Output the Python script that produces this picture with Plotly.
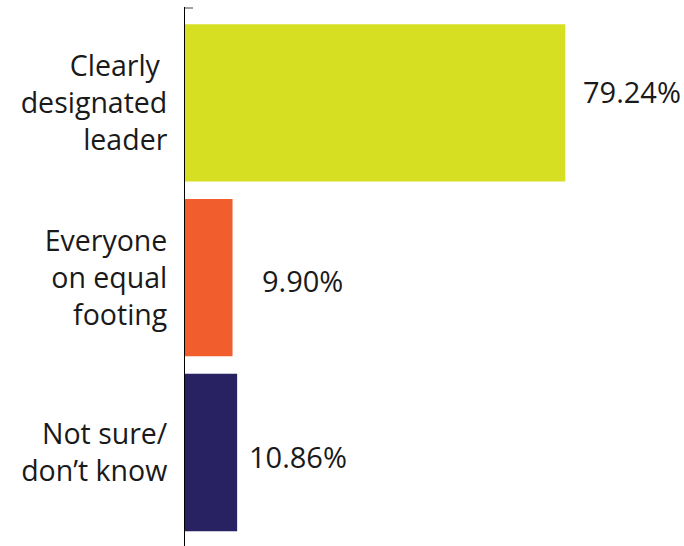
import plotly.graph_objects as go

categories = ["Clearly <br>designated<br>leader", "Everyone<br>on equal<br>footing", "Not sure/<br>don’t know"]
values = [79.24, 9.90, 10.86]
value_labels = ["79.24%", "9.90%", "10.86%"]
colors = ["#D7DF23", "#F15D2D", "#282162"]

# label placement offsets (px)
label_dx = [16, 27, 10]
label_dy = [11, -3, -4]

FONT = "Open Sans"

fig = go.Figure()
fig.add_trace(go.Bar(
    y=categories, x=values, orientation="h",
    marker=dict(color=colors, line=dict(width=0)),
    width=0.9, hoverinfo="skip",
))

for cat, v, lab, dx, dy in zip(categories, values, value_labels, label_dx, label_dy):
    fig.add_annotation(x=v, y=cat, text=lab, showarrow=False,
                       xanchor="left", yanchor="middle", xshift=dx, yshift=dy,
                       font=dict(family=FONT, size=29, color="#1a1a1a"))

# small top tick at axis start
fig.add_shape(type="line", xref="paper", yref="paper", x0=0, x1=8/479.6, y0=1 - 1/539, y1=1 - 1/539,
              line=dict(color="#444", width=1))

fig.update_layout(
    width=684, height=546,
    margin=dict(l=185, r=19.4, t=7, b=0),
    paper_bgcolor="white", plot_bgcolor="white",
    showlegend=False,
    xaxis=dict(range=[0, 100], visible=False, fixedrange=True),
    yaxis=dict(range=[2.535, -0.549], showline=True, linecolor="black", linewidth=1,
               ticks="", showgrid=False, ticklabelstandoff=11,
               tickfont=dict(family=FONT, size=28.5, color="#1a1a1a")),
)

fig.write_html("out.html")
